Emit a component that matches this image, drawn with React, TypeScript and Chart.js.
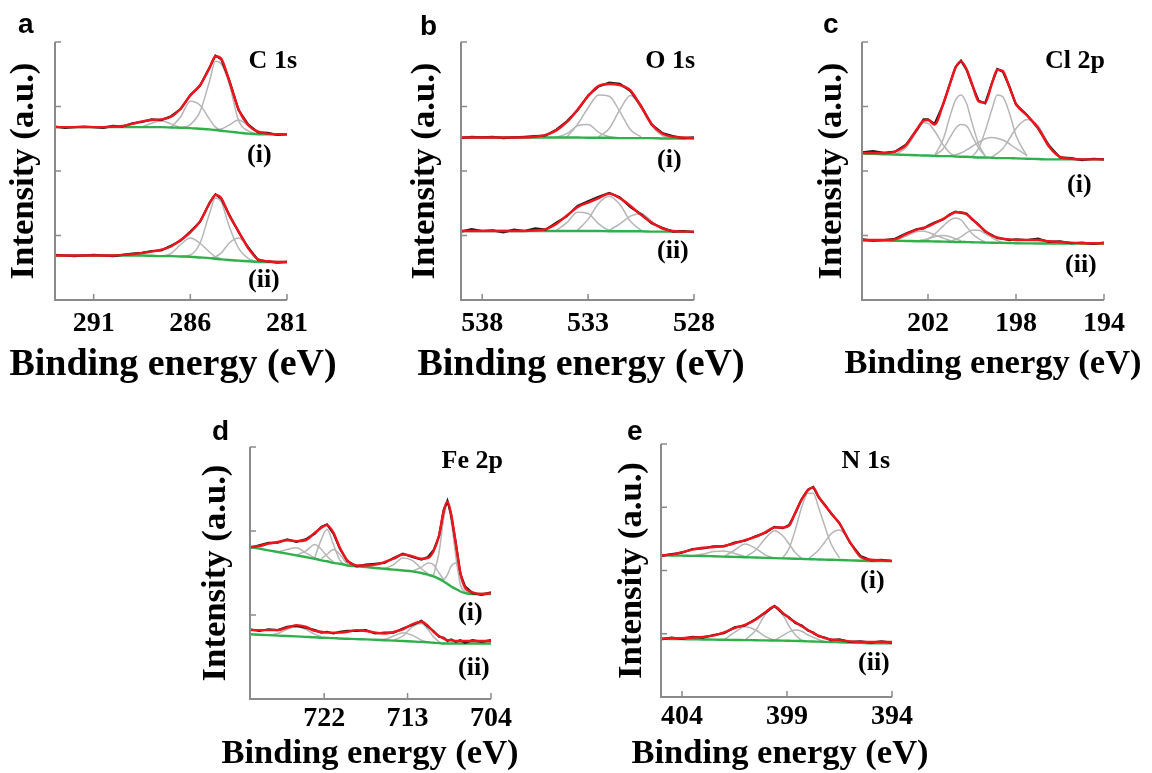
import { useEffect, useRef } from "react";
import { Chart, registerables } from "chart.js";

Chart.register(...registerables);

type Pair = [number, number];

const SERIF = '"Liberation Serif", "Times New Roman", serif';
const SANS = '"Liberation Sans", Arial, sans-serif';
const RED = "#f2141c";
const BLACK = "#1c1c1c";
const GREEN = "#2fb04a";
const GRAY = "#b6b6b6";
const AXIS = "#8a8a8a";
const X_TITLE = "Binding energy (eV)";
const Y_TITLE = "Intensity (a.u.)";

// ---------------- a: C 1s ----------------
const c1sEnergy = [293, 292.5, 292, 291.5, 291, 290.5, 290, 289.5, 289, 288.5, 288, 287.5, 287, 286.5, 286, 285.5, 285, 284.7, 284.4, 284, 283.5, 283, 282.5, 282, 281.5, 281];
const c1sTicks = [291, 286, 281];
const c1sFitI = [2.68, 2.68, 2.68, 2.68, 2.68, 2.68, 2.69, 2.70, 2.73, 2.77, 2.79, 2.80, 2.84, 2.97, 3.17, 3.33, 3.60, 3.78, 3.74, 3.41, 2.95, 2.71, 2.61, 2.58, 2.57, 2.57];
const c1sRawI = [2.69, 2.67, 2.68, 2.69, 2.68, 2.67, 2.70, 2.69, 2.74, 2.76, 2.80, 2.79, 2.85, 2.96, 3.18, 3.32, 3.61, 3.79, 3.73, 3.42, 2.94, 2.72, 2.60, 2.59, 2.56, 2.57];
const c1sBaseI = [2.68, 2.68, 2.68, 2.68, 2.68, 2.68, 2.68, 2.68, 2.68, 2.68, 2.68, 2.68, 2.675, 2.67, 2.665, 2.655, 2.645, 2.635, 2.625, 2.61, 2.595, 2.58, 2.57, 2.57, 2.57, 2.57];
const c1sPeaksI: Pair[][] = [
  [[288.5, 2.68], [288, 2.74], [287.5, 2.78], [287, 2.73], [286.5, 2.67]],
  [[287, 2.675], [286.5, 2.84], [286, 3.08], [285.5, 3.02], [285, 2.80], [284.7, 2.68], [284.4, 2.63]],
  [[286.5, 2.67], [286, 2.72], [285.5, 2.92], [285, 3.40], [284.7, 3.70], [284.4, 3.66], [284, 3.36], [283.5, 2.78], [283, 2.62], [282.5, 2.57]],
  [[284.7, 2.63], [284.4, 2.65], [284, 2.71], [283.5, 2.79], [283, 2.70], [282.5, 2.59], [282, 2.57]],
];
const c1sFitII = [0.69, 0.69, 0.69, 0.69, 0.69, 0.69, 0.69, 0.70, 0.71, 0.73, 0.75, 0.78, 0.83, 0.93, 1.05, 1.22, 1.50, 1.63, 1.58, 1.32, 1.06, 0.80, 0.63, 0.60, 0.59, 0.59];
const c1sRawII = [0.70, 0.69, 0.68, 0.69, 0.70, 0.69, 0.68, 0.70, 0.72, 0.73, 0.76, 0.77, 0.84, 0.92, 1.06, 1.21, 1.51, 1.64, 1.57, 1.33, 1.05, 0.81, 0.62, 0.60, 0.58, 0.59];
const c1sBaseII = [0.69, 0.69, 0.69, 0.69, 0.69, 0.69, 0.69, 0.69, 0.69, 0.69, 0.685, 0.68, 0.68, 0.675, 0.67, 0.66, 0.65, 0.64, 0.63, 0.62, 0.61, 0.60, 0.59, 0.59, 0.59, 0.59];
const c1sPeaksII: Pair[][] = [
  [[287.5, 0.68], [287, 0.72], [286.5, 0.86], [286, 0.96], [285.5, 0.88], [285, 0.74], [284.7, 0.67], [284.4, 0.64]],
  [[286.5, 0.675], [286, 0.70], [285.5, 0.88], [285, 1.35], [284.7, 1.58], [284.4, 1.52], [284, 1.15], [283.5, 0.80], [283, 0.64], [282.5, 0.59]],
  [[285, 0.65], [284.7, 0.67], [284.4, 0.73], [284, 0.88], [283.5, 0.96], [283, 0.82], [282.5, 0.64], [282, 0.59]],
];

// ---------------- b: O 1s ----------------
const o1sEnergy = [539, 538.5, 538, 537.5, 537, 536.5, 536, 535.5, 535, 534.5, 534, 533.5, 533, 532.5, 532, 531.5, 531, 530.5, 530, 529.5, 529, 528.5, 528];
const o1sTicks = [538, 533, 528];
const o1sFitI = [2.52, 2.52, 2.52, 2.52, 2.52, 2.52, 2.52, 2.53, 2.56, 2.63, 2.76, 2.95, 3.16, 3.32, 3.35, 3.33, 3.25, 3.00, 2.73, 2.58, 2.53, 2.52, 2.51];
const o1sRawI = [2.51, 2.53, 2.52, 2.53, 2.51, 2.52, 2.53, 2.54, 2.55, 2.64, 2.77, 2.94, 3.17, 3.31, 3.37, 3.35, 3.24, 3.01, 2.72, 2.59, 2.54, 2.51, 2.52];
const o1sBaseI = [2.52, 2.52, 2.52, 2.52, 2.52, 2.52, 2.52, 2.52, 2.52, 2.52, 2.52, 2.52, 2.515, 2.515, 2.515, 2.51, 2.51, 2.51, 2.51, 2.505, 2.505, 2.505, 2.505];
const o1sPeaksI: Pair[][] = [
  [[534.5, 2.52], [534, 2.58], [533.5, 2.70], [533, 2.72], [532.5, 2.60], [532, 2.53], [531.5, 2.51]],
  [[534, 2.53], [533.5, 2.72], [533, 2.98], [532.5, 3.18], [532, 3.16], [531.5, 2.92], [531, 2.64], [530.5, 2.53]],
  [[532.5, 2.53], [532, 2.66], [531.5, 2.95], [531, 3.17], [530.5, 2.98], [530, 2.70], [529.5, 2.55], [529, 2.51]],
];
const o1sFitII = [1.07, 1.07, 1.07, 1.07, 1.07, 1.07, 1.07, 1.08, 1.10, 1.18, 1.31, 1.44, 1.51, 1.58, 1.65, 1.58, 1.46, 1.32, 1.20, 1.11, 1.07, 1.06, 1.06];
const o1sRawII = [1.06, 1.10, 1.07, 1.08, 1.05, 1.09, 1.07, 1.11, 1.09, 1.20, 1.30, 1.46, 1.53, 1.60, 1.66, 1.59, 1.44, 1.33, 1.19, 1.12, 1.06, 1.07, 1.05];
const o1sBaseII = [1.07, 1.07, 1.07, 1.07, 1.07, 1.07, 1.07, 1.07, 1.07, 1.07, 1.07, 1.07, 1.07, 1.07, 1.065, 1.065, 1.065, 1.065, 1.06, 1.06, 1.06, 1.06, 1.06];
const o1sPeaksII: Pair[][] = [
  [[534.5, 1.08], [534, 1.20], [533.5, 1.36], [533, 1.34], [532.5, 1.18], [532, 1.08], [531.5, 1.065]],
  [[533.5, 1.08], [533, 1.25], [532.5, 1.50], [532, 1.61], [531.5, 1.48], [531, 1.22], [530.5, 1.08]],
  [[532, 1.08], [531.5, 1.18], [531, 1.30], [530.5, 1.34], [530, 1.22], [529.5, 1.10], [529, 1.06]],
];

// ---------------- c: Cl 2p ----------------
const cl2pEnergy = [205, 204.5, 204, 203.5, 203, 202.5, 202.2, 202, 201.7, 201.3, 201, 200.75, 200.5, 200.25, 200, 199.7, 199.4, 199.1, 198.85, 198.6, 198.3, 198, 197.5, 197, 196.5, 196, 195.5, 195, 194.5, 194];
const cl2pTicks = [202, 198, 194];
const cl2pFitI = [2.28, 2.28, 2.28, 2.30, 2.40, 2.65, 2.78, 2.79, 2.72, 3.05, 3.35, 3.60, 3.70, 3.58, 3.35, 3.08, 3.06, 3.35, 3.57, 3.55, 3.30, 3.04, 2.86, 2.67, 2.38, 2.22, 2.19, 2.18, 2.18, 2.18];
const cl2pRawI = [2.29, 2.31, 2.28, 2.30, 2.41, 2.64, 2.80, 2.80, 2.73, 3.04, 3.36, 3.61, 3.71, 3.57, 3.34, 3.09, 3.05, 3.36, 3.58, 3.54, 3.31, 3.03, 2.87, 2.66, 2.39, 2.21, 2.20, 2.17, 2.19, 2.18];
const cl2pBaseI = [2.27, 2.265, 2.26, 2.255, 2.25, 2.245, 2.24, 2.24, 2.235, 2.23, 2.23, 2.225, 2.22, 2.22, 2.215, 2.21, 2.21, 2.205, 2.20, 2.20, 2.20, 2.195, 2.19, 2.185, 2.18, 2.18, 2.18, 2.18, 2.18, 2.18];
const cl2pPeaksI: Pair[][] = [
  [[203.5, 2.255], [203, 2.36], [202.5, 2.62], [202.2, 2.75], [202, 2.74], [201.7, 2.62], [201.3, 2.40], [201, 2.28], [200.75, 2.23]],
  [[201.7, 2.24], [201.3, 2.50], [201, 2.85], [200.75, 3.10], [200.5, 3.18], [200.25, 3.05], [200, 2.75], [199.7, 2.42], [199.4, 2.23]],
  [[201.7, 2.24], [201.3, 2.35], [201, 2.52], [200.75, 2.66], [200.5, 2.72], [200.25, 2.70], [200, 2.55], [199.7, 2.36], [199.4, 2.23]],
  [[200, 2.22], [199.7, 2.35], [199.4, 2.62], [199.1, 2.95], [198.85, 3.18], [198.6, 3.15], [198.3, 2.90], [198, 2.55], [197.5, 2.23]],
  [[201, 2.23], [200.5, 2.28], [200, 2.38], [199.4, 2.50], [199.1, 2.52], [198.6, 2.48], [198, 2.35], [197.5, 2.24]],
  [[199.1, 2.21], [198.6, 2.35], [198.3, 2.50], [198, 2.66], [197.5, 2.80], [197, 2.70], [196.5, 2.42], [196, 2.22], [195.5, 2.18]],
];
const cl2pFitII = [0.93, 0.93, 0.93, 0.94, 1.02, 1.09, 1.12, 1.14, 1.19, 1.26, 1.32, 1.36, 1.36, 1.33, 1.26, 1.16, 1.07, 1.00, 0.97, 0.95, 0.94, 0.93, 0.93, 0.93, 0.91, 0.90, 0.89, 0.88, 0.88, 0.88];
const cl2pRawII = [0.94, 0.92, 0.93, 0.95, 1.03, 1.10, 1.11, 1.15, 1.20, 1.25, 1.33, 1.37, 1.35, 1.34, 1.25, 1.17, 1.06, 1.01, 0.96, 0.95, 0.93, 0.94, 0.93, 0.95, 0.90, 0.91, 0.88, 0.89, 0.87, 0.89];
const cl2pBaseII = [0.92, 0.92, 0.92, 0.918, 0.915, 0.912, 0.91, 0.91, 0.908, 0.905, 0.903, 0.90, 0.90, 0.898, 0.895, 0.893, 0.89, 0.888, 0.886, 0.885, 0.883, 0.88, 0.878, 0.876, 0.875, 0.875, 0.875, 0.875, 0.875, 0.875];
const cl2pPeaksII: Pair[][] = [
  [[203.5, 0.918], [203, 0.99], [202.5, 1.06], [202.2, 1.07], [202, 1.05], [201.7, 1.01], [201.3, 0.96], [201, 0.92]],
  [[202.5, 0.915], [202, 0.95], [201.7, 0.98], [201.3, 1.00], [201, 0.98], [200.75, 0.95], [200.5, 0.92]],
  [[202.2, 0.91], [202, 0.94], [201.7, 1.02], [201.3, 1.15], [201, 1.24], [200.75, 1.27], [200.5, 1.24], [200.25, 1.14], [200, 1.03], [199.7, 0.95], [199.4, 0.90]],
  [[201, 0.905], [200.5, 0.98], [200.25, 1.04], [200, 1.08], [199.7, 1.08], [199.4, 1.03], [199.1, 0.97], [198.85, 0.92], [198.6, 0.89]],
];

// ---------------- d: Fe 2p ----------------
const fe2pEnergy = [730, 729, 728, 727, 726, 725, 724, 723, 722.3, 721.7, 721, 720.3, 719.5, 718.5, 717.5, 716.5, 715.5, 714.5, 713.5, 712.5, 711.5, 710.8, 710.2, 709.6, 709.1, 708.7, 708.3, 707.8, 707.3, 706.8, 706, 705, 704];
const fe2pTicks = [722, 713, 704];
const fe2pFitI = [1.81, 1.82, 1.85, 1.87, 1.89, 1.88, 1.89, 1.98, 2.04, 2.07, 1.98, 1.80, 1.65, 1.59, 1.59, 1.60, 1.63, 1.67, 1.72, 1.70, 1.67, 1.68, 1.76, 1.95, 2.24, 2.35, 2.20, 1.85, 1.50, 1.33, 1.27, 1.25, 1.26];
const fe2pRawI = [1.80, 1.83, 1.86, 1.86, 1.90, 1.87, 1.90, 1.97, 2.05, 2.08, 1.97, 1.79, 1.64, 1.58, 1.60, 1.61, 1.62, 1.68, 1.73, 1.69, 1.66, 1.69, 1.77, 1.94, 2.25, 2.36, 2.19, 1.86, 1.49, 1.34, 1.26, 1.24, 1.27];
const fe2pBaseI = [1.81, 1.79, 1.77, 1.75, 1.73, 1.71, 1.69, 1.67, 1.65, 1.64, 1.62, 1.61, 1.59, 1.58, 1.57, 1.56, 1.55, 1.54, 1.53, 1.52, 1.50, 1.48, 1.46, 1.43, 1.40, 1.37, 1.34, 1.31, 1.28, 1.26, 1.25, 1.25, 1.25];
const fe2pPeaksI: Pair[][] = [
  [[727, 1.75], [726, 1.78], [725, 1.80], [724, 1.74], [723, 1.68], [722.3, 1.65]],
  [[725, 1.71], [724, 1.76], [723, 1.84], [722.3, 1.78], [721.7, 1.70], [721, 1.63]],
  [[723, 1.69], [722.3, 1.90], [721.7, 2.02], [721, 1.84], [720.3, 1.65], [719.5, 1.59]],
  [[722.3, 1.67], [721.7, 1.72], [721, 1.78], [720.3, 1.72], [719.5, 1.61], [718.5, 1.58]],
  [[715.5, 1.55], [714.5, 1.60], [713.5, 1.68], [712.5, 1.65], [711.5, 1.55], [710.8, 1.49]],
  [[712.5, 1.52], [711.5, 1.57], [710.8, 1.62], [710.2, 1.60], [709.6, 1.50], [709.1, 1.42]],
  [[710.2, 1.47], [709.6, 1.75], [709.1, 2.15], [708.7, 2.32], [708.3, 2.12], [707.8, 1.70], [707.3, 1.36], [706.8, 1.27]],
  [[709.1, 1.42], [708.7, 1.48], [708.3, 1.58], [707.8, 1.62], [707.3, 1.45], [706.8, 1.30], [706, 1.25]],
];
const fe2pFitII = [0.82, 0.82, 0.82, 0.82, 0.85, 0.88, 0.86, 0.81, 0.80, 0.79, 0.79, 0.79, 0.80, 0.82, 0.81, 0.79, 0.78, 0.80, 0.83, 0.89, 0.92, 0.87, 0.80, 0.75, 0.72, 0.70, 0.70, 0.69, 0.69, 0.69, 0.69, 0.69, 0.69];
const fe2pRawII = [0.83, 0.81, 0.83, 0.82, 0.86, 0.87, 0.85, 0.82, 0.79, 0.80, 0.78, 0.80, 0.81, 0.81, 0.82, 0.78, 0.79, 0.79, 0.84, 0.88, 0.93, 0.86, 0.81, 0.74, 0.73, 0.69, 0.71, 0.68, 0.70, 0.67, 0.70, 0.68, 0.70];
const fe2pBaseII = [0.77, 0.765, 0.76, 0.755, 0.75, 0.745, 0.74, 0.735, 0.73, 0.728, 0.725, 0.72, 0.717, 0.713, 0.71, 0.705, 0.70, 0.695, 0.69, 0.685, 0.68, 0.675, 0.67, 0.665, 0.66, 0.66, 0.66, 0.66, 0.66, 0.66, 0.66, 0.66, 0.66];
const fe2pPeaksII: Pair[][] = [
  [[728, 0.76], [727, 0.78], [726, 0.83], [725, 0.86], [724, 0.83], [723, 0.77], [722.3, 0.74]],
  [[716.5, 0.705], [715.5, 0.71], [714.5, 0.75], [713.5, 0.79], [712.5, 0.76], [711.5, 0.70], [710.8, 0.68]],
  [[714.5, 0.70], [713.5, 0.75], [712.5, 0.86], [711.5, 0.90], [710.8, 0.83], [710.2, 0.74], [709.6, 0.68], [709.1, 0.66]],
];

// ---------------- e: N 1s ----------------
const n1sEnergy = [405, 404.5, 404, 403.5, 403, 402.5, 402, 401.5, 401, 400.5, 400, 399.6, 399.2, 398.9, 398.6, 398.3, 398, 397.75, 397.5, 397.2, 396.9, 396.5, 396, 395.5, 395, 394.5, 394];
const n1sTicks = [404, 399, 394];
const n1sFitI = [2.24, 2.25, 2.29, 2.33, 2.36, 2.37, 2.39, 2.43, 2.48, 2.53, 2.61, 2.68, 2.68, 2.71, 2.92, 3.12, 3.27, 3.31, 3.17, 3.03, 2.91, 2.74, 2.45, 2.22, 2.17, 2.16, 2.15];
const n1sRawI = [2.23, 2.26, 2.28, 2.34, 2.35, 2.38, 2.38, 2.44, 2.47, 2.54, 2.60, 2.69, 2.67, 2.72, 2.91, 3.13, 3.28, 3.32, 3.16, 3.04, 2.90, 2.75, 2.44, 2.23, 2.16, 2.17, 2.15];
const n1sBaseI = [2.24, 2.237, 2.235, 2.232, 2.23, 2.225, 2.22, 2.215, 2.21, 2.205, 2.20, 2.196, 2.192, 2.189, 2.186, 2.183, 2.18, 2.177, 2.175, 2.172, 2.17, 2.165, 2.16, 2.155, 2.15, 2.15, 2.15];
const n1sPeaksI: Pair[][] = [
  [[403.5, 2.232], [403, 2.26], [402.5, 2.30], [402, 2.31], [401.5, 2.27], [401, 2.22]],
  [[402, 2.22], [401.5, 2.32], [401, 2.42], [400.5, 2.35], [400, 2.24], [399.6, 2.20]],
  [[401, 2.21], [400.5, 2.32], [400, 2.52], [399.6, 2.63], [399.2, 2.55], [398.9, 2.42], [398.6, 2.28], [398.3, 2.19]],
  [[399.2, 2.20], [398.9, 2.35], [398.6, 2.65], [398.3, 3.00], [398, 3.22], [397.75, 3.22], [397.5, 3.00], [397.2, 2.70], [396.9, 2.42], [396.5, 2.20]],
  [[398, 2.18], [397.5, 2.32], [397.2, 2.45], [396.9, 2.58], [396.5, 2.64], [396, 2.45], [395.5, 2.20], [395, 2.15]],
];
const n1sFitII = [0.92, 0.93, 0.93, 0.94, 0.95, 0.97, 1.02, 1.09, 1.14, 1.22, 1.35, 1.43, 1.33, 1.25, 1.18, 1.12, 1.06, 1.01, 0.97, 0.93, 0.91, 0.90, 0.88, 0.87, 0.87, 0.87, 0.87];
const n1sRawII = [0.91, 0.94, 0.92, 0.95, 0.94, 0.98, 1.01, 1.10, 1.13, 1.23, 1.34, 1.44, 1.32, 1.26, 1.17, 1.13, 1.05, 1.02, 0.96, 0.94, 0.90, 0.91, 0.87, 0.88, 0.86, 0.88, 0.86];
const n1sBaseII = [0.92, 0.917, 0.915, 0.912, 0.91, 0.907, 0.905, 0.902, 0.90, 0.897, 0.895, 0.893, 0.891, 0.889, 0.887, 0.885, 0.88, 0.877, 0.875, 0.872, 0.87, 0.865, 0.86, 0.855, 0.85, 0.85, 0.85];
const n1sPeaksII: Pair[][] = [
  [[402, 0.905], [401.5, 1.02], [401, 1.11], [400.5, 1.06], [400, 0.95], [399.6, 0.90]],
  [[401, 0.90], [400.5, 1.05], [400, 1.32], [399.6, 1.42], [399.2, 1.30], [398.9, 1.12], [398.6, 0.98], [398.3, 0.89]],
  [[399.6, 0.893], [399.2, 0.97], [398.9, 1.03], [398.6, 1.06], [398.3, 1.04], [398, 0.98], [397.5, 0.91], [397.2, 0.875]],
];

const yTicks4 = [0, 1, 2, 3, 4];
const yTicks3 = [0, 1, 2, 3];

type Spectrum = { label: string; fit: number[]; raw: number[]; base: number[]; peaks: Pair[][]; labelPos: [number, number] };
type PanelSpec = {
  letter: string;
  element: string;
  left: number; top: number; width: number; height: number;
  yAxisWidth: number; xAxisHeight: number; padTop: number; padRight: number;
  xMin: number; xMax: number; xTicks: number[]; yMax: number; yTicks: number[];
  energy: number[];
  spectra: Spectrum[];
  letterPos: [number, number];
  elementPos: [number, number];
  xTitlePos: [number, number];
  xTitleSize: number; yTitlePad: number; tickPad: number;
};

const panels: PanelSpec[] = [
  {
    letter: "a", element: "C 1s",
    left: 0, top: 0, width: 345, height: 390,
    yAxisWidth: 55, xAxisHeight: 90, padTop: 42, padRight: 58,
    xMin: 281, xMax: 293, xTicks: c1sTicks, yMax: 4, yTicks: yTicks4,
    energy: c1sEnergy,
    spectra: [
      { label: "(i)", fit: c1sFitI, raw: c1sRawI, base: c1sBaseI, peaks: c1sPeaksI, labelPos: [247, 162] },
      { label: "(ii)", fit: c1sFitII, raw: c1sRawII, base: c1sBaseII, peaks: c1sPeaksII, labelPos: [248, 287] },
    ],
    letterPos: [18, 33], elementPos: [297, 68], xTitlePos: [173, 375],
    xTitleSize: 38, yTitlePad: 7, tickPad: 7,
  },
  {
    letter: "b", element: "O 1s",
    left: 400, top: 0, width: 352, height: 390,
    yAxisWidth: 61, xAxisHeight: 90, padTop: 42, padRight: 58,
    xMin: 528, xMax: 539, xTicks: o1sTicks, yMax: 4, yTicks: yTicks4,
    energy: o1sEnergy,
    spectra: [
      { label: "(i)", fit: o1sFitI, raw: o1sRawI, base: o1sBaseI, peaks: o1sPeaksI, labelPos: [257, 167] },
      { label: "(ii)", fit: o1sFitII, raw: o1sRawII, base: o1sBaseII, peaks: o1sPeaksII, labelPos: [257, 258] },
    ],
    letterPos: [20, 35], elementPos: [295, 68], xTitlePos: [181, 375],
    xTitleSize: 38, yTitlePad: 8, tickPad: 7,
  },
  {
    letter: "c", element: "Cl 2p",
    left: 800, top: 0, width: 352, height: 390,
    yAxisWidth: 62, xAxisHeight: 90, padTop: 42, padRight: 48,
    xMin: 194, xMax: 205, xTicks: cl2pTicks, yMax: 4, yTicks: yTicks4,
    energy: cl2pEnergy,
    spectra: [
      { label: "(i)", fit: cl2pFitI, raw: cl2pRawI, base: cl2pBaseI, peaks: cl2pPeaksI, labelPos: [267, 192] },
      { label: "(ii)", fit: cl2pFitII, raw: cl2pRawII, base: cl2pBaseII, peaks: cl2pPeaksII, labelPos: [265, 272] },
    ],
    letterPos: [23, 33], elementPos: [305, 68], xTitlePos: [193, 373],
    xTitleSize: 34.5, yTitlePad: 15, tickPad: 7,
  },
  {
    letter: "d", element: "Fe 2p",
    left: 190, top: 400, width: 345, height: 373,
    yAxisWidth: 60, xAxisHeight: 74, padTop: 47, padRight: 44,
    xMin: 704, xMax: 730, xTicks: fe2pTicks, yMax: 3, yTicks: yTicks3,
    energy: fe2pEnergy,
    spectra: [
      { label: "(i)", fit: fe2pFitI, raw: fe2pRawI, base: fe2pBaseI, peaks: fe2pPeaksI, labelPos: [268, 220] },
      { label: "(ii)", fit: fe2pFitII, raw: fe2pRawII, base: fe2pBaseII, peaks: fe2pPeaksII, labelPos: [268, 275] },
    ],
    letterPos: [22, 40], elementPos: [313, 68], xTitlePos: [180, 363],
    xTitleSize: 34.5, yTitlePad: 9, tickPad: 3,
  },
  {
    letter: "e", element: "N 1s",
    left: 600, top: 400, width: 345, height: 373,
    yAxisWidth: 61, xAxisHeight: 76, padTop: 44, padRight: 53,
    xMin: 394, xMax: 405, xTicks: n1sTicks, yMax: 4, yTicks: yTicks4,
    energy: n1sEnergy,
    spectra: [
      { label: "(i)", fit: n1sFitI, raw: n1sRawI, base: n1sBaseI, peaks: n1sPeaksI, labelPos: [260, 188] },
      { label: "(ii)", fit: n1sFitII, raw: n1sRawII, base: n1sBaseII, peaks: n1sPeaksII, labelPos: [258, 270] },
    ],
    letterPos: [27, 40], elementPos: [290, 68], xTitlePos: [180, 363],
    xTitleSize: 34.5, yTitlePad: 15, tickPad: 3,
  },
];

function toPoints(xs: number[], ys: number[]) {
  return xs.map((x, i) => ({ x, y: ys[i] }));
}

function buildDatasets(spec: PanelSpec) {
  const ds: any[] = [];
  const common = { pointRadius: 0, fill: false, cubicInterpolationMode: "monotone" };
  spec.spectra.forEach((s) => {
    ds.push({ ...common, data: toPoints(spec.energy, s.fit), borderColor: RED, borderWidth: 2.4, order: 0 });
    ds.push({ pointRadius: 0, fill: false, tension: 0, data: toPoints(spec.energy, s.raw), borderColor: BLACK, borderWidth: 2.2, order: 1 });
    ds.push({ ...common, data: toPoints(spec.energy, s.base), borderColor: GREEN, borderWidth: 2.4, order: 2 });
    s.peaks.forEach((p) => {
      ds.push({ ...common, data: p.map(([x, y]) => ({ x, y })), borderColor: GRAY, borderWidth: 1.5, order: 3 });
    });
  });
  return ds;
}

function decorPlugin(spec: PanelSpec) {
  return {
    id: "decor_" + spec.letter,
    afterDraw(chart: any) {
      const { ctx, chartArea: ca } = chart;
      const xs = chart.scales.x;
      const ys = chart.scales.y;
      ctx.save();
      ctx.strokeStyle = AXIS;
      ctx.lineWidth = 2;
      ctx.beginPath();
      ctx.moveTo(ca.left, ca.top);
      ctx.lineTo(ca.left, ca.bottom);
      ctx.lineTo(ca.right, ca.bottom);
      ctx.stroke();
      ctx.lineWidth = 1.5;
      ctx.beginPath();
      xs.ticks.forEach((t: any) => {
        const p = xs.getPixelForValue(t.value);
        ctx.moveTo(p, ca.bottom);
        ctx.lineTo(p, ca.bottom - 6);
      });
      ys.ticks.forEach((t: any) => {
        const p = ys.getPixelForValue(t.value);
        ctx.moveTo(ca.left, p);
        ctx.lineTo(ca.left + 6, p);
      });
      ctx.stroke();

      ctx.fillStyle = "#000";
      ctx.textBaseline = "alphabetic";
      ctx.textAlign = "left";
      ctx.font = `bold 28px ${SANS}`;
      ctx.fillText(spec.letter, spec.letterPos[0], spec.letterPos[1]);
      ctx.font = `bold 26px ${SERIF}`;
      ctx.textAlign = "right";
      ctx.fillText(spec.element, spec.elementPos[0], spec.elementPos[1]);
      ctx.textAlign = "left";
      spec.spectra.forEach((s) => ctx.fillText(s.label, s.labelPos[0], s.labelPos[1]));
      ctx.textAlign = "center";
      ctx.font = `bold ${spec.xTitleSize}px ${SERIF}`;
      ctx.fillText(X_TITLE, spec.xTitlePos[0], spec.xTitlePos[1]);
      ctx.restore();
    },
  };
}

function Panel({ spec }: { spec: PanelSpec }) {
  const ref = useRef<HTMLCanvasElement>(null);
  useEffect(() => {
    if (!ref.current) return;
    const chart = new Chart(ref.current, {
      type: "line",
      data: { datasets: buildDatasets(spec) },
      options: {
        responsive: false,
        animation: false,
        devicePixelRatio: 1,
        layout: { padding: { top: spec.padTop, right: spec.padRight, left: 0, bottom: 0 } },
        plugins: { legend: { display: false }, tooltip: { enabled: false } },
        scales: {
          x: {
            type: "linear",
            reverse: true,
            min: spec.xMin,
            max: spec.xMax,
            afterBuildTicks: (s: any) => {
              s.ticks = spec.xTicks.map((v) => ({ value: v }));
            },
            afterFit: (s: any) => {
              s.height = spec.xAxisHeight;
            },
            grid: { display: false, drawTicks: false },
            border: { display: false },
            ticks: {
              color: "#000",
              padding: spec.tickPad,
              maxRotation: 0,
              autoSkip: false,
              font: { family: SERIF, size: 28, weight: "bold" },
            },
            title: { display: false, text: X_TITLE },
          },
          y: {
            type: "linear",
            min: 0,
            max: spec.yMax,
            afterBuildTicks: (s: any) => {
              s.ticks = spec.yTicks.map((v) => ({ value: v }));
            },
            afterFit: (s: any) => {
              s.width = spec.yAxisWidth;
            },
            grid: { display: false, drawTicks: false },
            border: { display: false },
            ticks: { display: false },
            title: {
              display: true,
              text: Y_TITLE,
              color: "#000",
              font: { family: SERIF, size: 34.7, weight: "bold", lineHeight: 1 },
              padding: { top: spec.yTitlePad, bottom: 0 },
            },
          },
        },
      } as any,
      plugins: [decorPlugin(spec)],
    });
    return () => chart.destroy();
  }, [spec]);
  return (
    <canvas
      ref={ref}
      width={spec.width}
      height={spec.height}
      style={{ position: "absolute", left: spec.left, top: spec.top, display: "block" }}
    />
  );
}

export default function App() {
  return (
    <div style={{ position: "absolute", left: 0, top: 0, width: 1152, height: 773, background: "#fff", overflow: "hidden" }}>
      {panels.map((p) => (
        <Panel key={p.letter} spec={p} />
      ))}
    </div>
  );
}
